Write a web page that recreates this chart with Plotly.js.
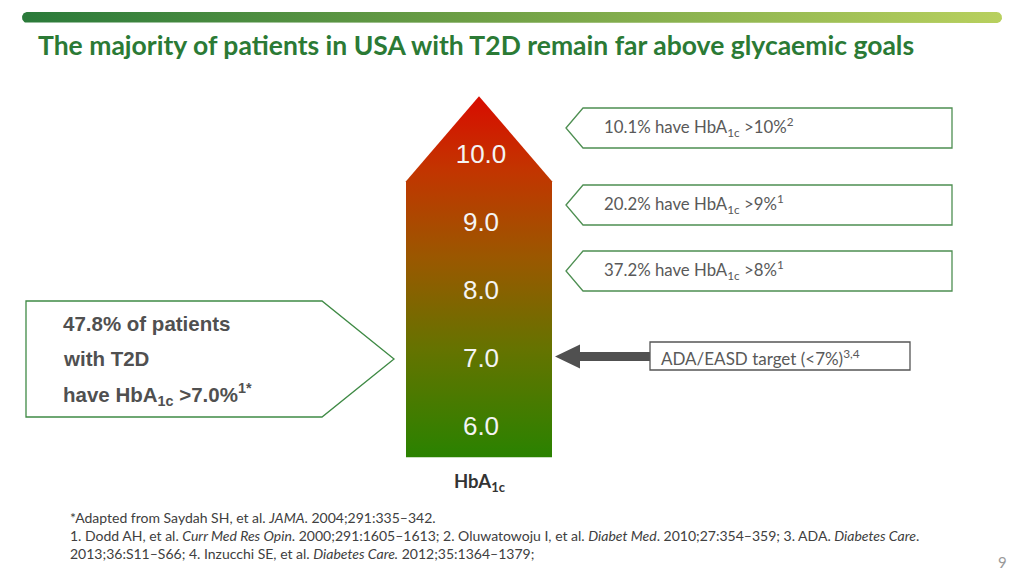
<!DOCTYPE html>
<html><head><meta charset="utf-8">
<script src="https://cdn.plot.ly/plotly-3.0.1.min.js"></script>
<style>html,body{margin:0;padding:0;background:#fff}#chart{width:1024px;height:576px}</style>
</head><body><div id="chart"></div>
<script>
// ---- data ----
const levels = [6, 7, 8, 9, 10];
const levelLabels = ['6.0', '7.0', '8.0', '9.0', '10.0'];
const rightPct = [10.1, 20.2, 37.2];
const rightThreshold = ['10', '9', '8'];
const rightRefs = ['2', '1', '1'];
const leftPct = 47.8;
const leftThreshold = '7.0';
const leftRef = '1*';
const targetText = 'ADA/EASD target (&lt;7%)';
const targetRefs = '3,4';
const titleText = 'The majority of patients in USA with T2D remain far above glycaemic goals';
const footnotes = [
  '*Adapted from Saydah SH, et al. <i>JAMA</i>. 2004;291:335–342.',
  '1. Dodd AH, et al. <i>Curr Med Res Opin</i>. 2000;291:1605–1613; 2. Oluwatowoju I, et al. <i>Diabet Med</i>. 2010;27:354–359; 3. ADA. <i>Diabetes Care</i>.',
  '2013;36:S11–S66; 4. Inzucchi SE, et al. <i>Diabetes Care.</i> 2012;35:1364–1379;'
];
const pageNumber = '9';

// ---- styling / layout helpers ----
const GREEN = '#2b7a35';
const TXT = '#595959';
const yMin = 6 - 148 / 68, yMax = 10 + 156 / 68; // HbA1c axis range
const minL = Math.min(...levels), maxL = Math.max(...levels);
const arrowBottom = minL - 0.43, arrowShoulder = maxL - 0.37, arrowTip = maxL + 0.88;
const ax0 = 406, ax1 = 552, axm = (ax0 + ax1) / 2;

const traces = [];

// top gradient bar (rounded)
(function () {
  const x0 = 22, x1 = 1002, yc = 17.5, r = 5.5, xs = [], ys = [];
  for (let i = 0; i <= 20; i++) { const a = -Math.PI / 2 + Math.PI * i / 20; xs.push(x1 - r + r * Math.cos(a)); ys.push(yc + r * Math.sin(a)); }
  for (let i = 0; i <= 20; i++) { const a = Math.PI / 2 + Math.PI * i / 20; xs.push(x0 + r + r * Math.cos(a)); ys.push(yc + r * Math.sin(a)); }
  traces.push({
    type: 'scatter', mode: 'lines', x: xs, y: ys, yaxis: 'y2', fill: 'toself', line: { width: 0 },
    fillcolor: '#7aa84a',
    fillgradient: { type: 'horizontal', start: x0, stop: x1, colorscale: [[0, '#2a7a3a'], [0.45, '#6c9e45'], [1, '#b8d05e']] },
    hoverinfo: 'skip'
  });
})();

// main arrow
traces.push({
  type: 'scatter', mode: 'lines',
  x: [ax0, ax1, ax1, axm, ax0, ax0],
  y: [arrowBottom, arrowBottom, arrowShoulder, arrowTip, arrowShoulder, arrowBottom],
  fill: 'toself', line: { width: 0 }, fillcolor: '#8a5a00',
  fillgradient: { type: 'vertical', start: arrowBottom, stop: arrowTip,
    colorscale: [[0, '#2a8200'], [0.3, '#657300'], [0.55, '#9a5800'], [0.8, '#c33400'], [1, '#d80c00']] },
  hoverinfo: 'skip'
});

// level labels
traces.push({
  type: 'scatter', mode: 'text', x: levels.map(() => axm + 2), y: levels, text: levelLabels,
  textfont: { family: 'Liberation Sans, Arial, sans-serif', size: 26, color: '#f4f4f4' },
  hoverinfo: 'skip'
});

// target arrow (pointer)
traces.push({
  type: 'scatter', mode: 'lines',
  x: [555, 580, 580, 650, 650, 580, 580, 555],
  y: [356.5, 344.5, 352, 352, 361, 361, 368.5, 356.5],
  yaxis: 'y2', fill: 'toself', fillcolor: '#505050', line: { width: 0 }, hoverinfo: 'skip'
});

const shapes = [];
const annotations = [];

// right callouts
const rightBoxes = [[108, 148], [185, 225], [251, 291]];
rightBoxes.forEach(([t, b], i) => {
  const c = (t + b) / 2;
  shapes.push({ type: 'path', xref: 'x', yref: 'y2',
    path: `M 566 ${c} L 583 ${t} L 952 ${t} L 952 ${b} L 583 ${b} Z`,
    line: { color: '#4e8f52', width: 1.3 }, fillcolor: '#ffffff' });
  annotations.push({ xref: 'x', yref: 'y2', x: 602, y: c - 1, xanchor: 'left', yanchor: 'middle', showarrow: false,
    text: `${rightPct[i].toFixed(1)}% have HbA<sub>1c</sub> &gt;${rightThreshold[i]}%<sup>${rightRefs[i]}</sup>`,
    font: { family: 'Lato, sans-serif', size: 16.8, color: TXT } });
});

// left callout
shapes.push({ type: 'path', xref: 'x', yref: 'y2',
  path: 'M 26 301 L 322 301 L 394 359 L 322 417 L 26 417 Z',
  line: { color: '#3f8a45', width: 1.3 }, fillcolor: '#ffffff' });
const leftLines = [
  `${leftPct.toFixed(1)}% of patients`,
  'with T2D',
  `have HbA<sub>1c</sub> &gt;${leftThreshold}%<sup>${leftRef}</sup>`
];
[323, 358, 394].forEach((y, i) => {
  annotations.push({ xref: 'x', yref: 'y2', x: 61, y: y, xanchor: 'left', yanchor: 'middle', showarrow: false,
    text: `<b>${leftLines[i]}</b>`, font: { family: 'Liberation Sans, Arial, sans-serif', size: 20.5, color: '#505050' } });
});

// target box
shapes.push({ type: 'rect', xref: 'x', yref: 'y2', x0: 650, x1: 910, y0: 342, y1: 370,
  line: { color: '#555555', width: 1.3 }, fillcolor: '#ffffff' });
annotations.push({ xref: 'x', yref: 'y2', x: 659, y: 357, xanchor: 'left', yanchor: 'middle', showarrow: false,
  text: `${targetText}<sup>${targetRefs}</sup>`, font: { family: 'Lato, sans-serif', size: 17, color: TXT } });

// HbA1c axis label
annotations.push({ xref: 'x', yref: 'y2', x: axm + 1, y: 482, xanchor: 'center', yanchor: 'middle', showarrow: false,
  text: '<b>HbA<sub>1c</sub></b>', font: { family: 'Lato, sans-serif', size: 18.5, color: '#333333' } });

// title
annotations.push({ xref: 'x', yref: 'y2', x: 36, y: 45, xanchor: 'left', yanchor: 'middle', showarrow: false,
  text: `<b>${titleText}</b>`, font: { family: 'Lato, sans-serif', size: 26.5, color: GREEN } });

// footnotes
[517, 535, 553].forEach((y, i) => {
  annotations.push({ xref: 'x', yref: 'y2', x: 68, y: y, xanchor: 'left', yanchor: 'middle', showarrow: false,
    text: footnotes[i], font: { family: 'Lato, sans-serif', size: 14, color: '#404040' } });
});
annotations.push({ xref: 'x', yref: 'y2', x: 1002, y: 562, xanchor: 'center', yanchor: 'middle', showarrow: false,
  text: pageNumber, font: { family: 'Lato, sans-serif', size: 15, color: '#9a9a9a' } });

const layout = {
  width: 1024, height: 576, margin: { l: 0, r: 0, t: 0, b: 0 },
  paper_bgcolor: '#ffffff', plot_bgcolor: '#ffffff', showlegend: false,
  xaxis: { range: [0, 1024], visible: false, fixedrange: true },
  yaxis: { range: [yMin, yMax], visible: false, fixedrange: true },
  yaxis2: { range: [576, 0], overlaying: 'y', visible: false, fixedrange: true },
  shapes: shapes, annotations: annotations
};
Plotly.newPlot('chart', traces, layout, { staticPlot: true, displayModeBar: false });
</script>
</body></html>
